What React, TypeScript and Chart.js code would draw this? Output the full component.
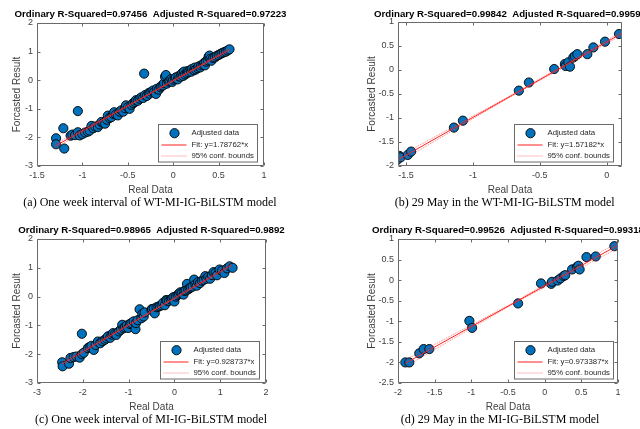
import React, { useEffect, useRef } from 'react';
import { Chart, registerables } from 'chart.js';

Chart.register(...registerables);

const SANS = '"Liberation Sans", Arial, Helvetica, sans-serif';
const SERIF = '"Liberation Serif", "Times New Roman", serif';
const AXIS_COLOR = '#6a6a6a';
const TICK_COLOR = '#404040';
const MARKER_FILL = '#0072BD';
const FIT_COLOR = '#ff2020';
const BOUND_COLOR = 'rgba(255,40,40,0.6)';

// ---------- Panel (a): one week interval, WT-MI-IG-BiLSTM ----------
const aTitle = 'Ordinary R-Squared=0.97456  Adjusted R-Squared=0.97223';
const aFitLabel = 'Fit: y=1.78762*x';
const aCaption = '(a) One week interval of WT-MI-IG-BiLSTM model';
const aXTicks = [-1.5, -1, -0.5, 0, 0.5, 1];
const aYTicks = [-3, -2, -1, 0, 1, 2];
const aRealVsForecast: number[][] = [
  [-1.29, -2.03], [-1.29, -2.24], [-1.21, -1.68], [-1.2, -2.39], [-1.05, -1.08], [-0.32, 0.23],
  [-1.13, -1.94], [-1.11, -1.9], [-1.08, -1.92], [-1.05, -1.82], [-1.03, -1.93], [-1.0, -1.88],
  [-0.97, -1.83], [-0.94, -1.8], [-0.92, -1.76], [-0.9, -1.6], [-0.88, -1.68], [-0.86, -1.62],
  [-0.83, -1.64], [-0.81, -1.55], [-0.79, -1.46], [-0.77, -1.5], [-0.75, -1.52], [-0.73, -1.38],
  [-0.72, -1.24], [-0.7, -1.32], [-0.68, -1.29], [-0.66, -1.18], [-0.65, -1.12], [-0.63, -1.2],
  [-0.61, -1.23], [-0.59, -1.1], [-0.57, -1.05], [-0.55, -1.1], [-0.53, -0.98], [-0.52, -0.88],
  [-0.5, -0.95], [-0.48, -1.0], [-0.46, -0.86], [-0.44, -0.8], [-0.42, -0.76], [-0.41, -0.7],
  [-0.39, -0.72], [-0.37, -0.65], [-0.35, -0.6], [-0.33, -0.62], [-0.31, -0.52], [-0.29, -0.55],
  [-0.27, -0.45], [-0.26, -0.47], [-0.24, -0.4], [-0.22, -0.36], [-0.21, -0.42], [-0.19, -0.48],
  [-0.18, -0.3], [-0.16, -0.33], [-0.14, -0.25], [-0.13, -0.2], [-0.11, -0.18], [-0.1, -0.1],
  [-0.09, 0.12], [-0.08, 0.18], [-0.07, -0.12], [-0.05, -0.05], [-0.04, -0.02], [-0.02, 0.04],
  [-0.01, -0.06], [0.0, 0.02], [0.02, 0.06], [0.03, 0.1], [0.05, 0.03], [0.06, 0.14],
  [0.08, 0.12], [0.09, 0.2], [0.1, 0.25], [0.11, 0.15], [0.12, 0.3], [0.13, 0.2],
  [0.15, 0.24], [0.16, 0.32], [0.17, 0.28], [0.19, 0.35], [0.2, 0.3], [0.21, 0.4],
  [0.23, 0.35], [0.24, 0.44], [0.25, 0.38], [0.27, 0.42], [0.28, 0.48], [0.3, 0.45],
  [0.31, 0.52], [0.33, 0.55], [0.34, 0.6], [0.35, 0.52], [0.36, 0.65], [0.38, 0.7],
  [0.39, 0.82], [0.4, 0.86], [0.41, 0.75], [0.42, 0.68], [0.44, 0.78], [0.46, 0.8],
  [0.48, 0.85], [0.5, 0.88], [0.52, 0.92], [0.54, 0.95], [0.56, 0.98], [0.58, 1.0],
  [0.6, 1.04], [0.62, 1.08],
];
const aFitX = [-1.3, 0.62];
const aFitY = [-2.3, 1.07];
const aBoundX = [-1.3, -0.34, 0.62];
const aUpper = [-2.23, -0.6, 1.12];
const aLower = [-2.37, -0.64, 1.02];

// ---------- Panel (b): 29 May, WT-MI-IG-BiLSTM ----------
const bTitle = 'Ordinary R-Squared=0.99842  Adjusted R-Squared=0.99595';
const bFitLabel = 'Fit: y=1.57182*x';
const bCaption = '(b) 29 May in the WT-MI-IG-BiLSTM model';
const bXTicks = [-1.5, -1, -0.5, 0];
const bYTicks = [-2, -1.5, -1, -0.5, 0, 0.5, 1];
const bRealVsForecast: number[][] = [
  [-1.567, -1.875], [-1.55, -1.79], [-1.54, -1.82], [-1.487, -1.77], [-1.462, -1.7],
  [-1.142, -1.2], [-1.075, -1.056], [-0.657, -0.43], [-0.582, -0.26], [-0.393, 0.02],
  [-0.313, 0.125], [-0.307, 0.083], [-0.287, 0.16], [-0.275, 0.07], [-0.25, 0.26],
  [-0.238, 0.29], [-0.22, 0.33], [-0.145, 0.33], [-0.1, 0.47], [-0.013, 0.59], [0.092, 0.75],
];
const bFitX = [-1.567, 0.117];
const bFitY = [-1.88, 0.77];
const bBoundX = [-1.567, -0.72, 0.117];
const bUpper = [-1.82, -0.535, 0.805];
const bLower = [-1.94, -0.56, 0.735];

// ---------- Panel (c): one week interval, MI-IG-BiLSTM ----------
const cTitle = 'Ordinary R-Squared=0.98965  Adjusted R-Squared=0.9892';
const cFitLabel = 'Fit: y=0.928737*x';
const cCaption = '(c) One week interval of MI-IG-BiLSTM model';
const cXTicks = [-3, -2, -1, 0, 1, 2];
const cYTicks = [-3, -2, -1, 0, 1, 2];
const cRealVsForecast: number[][] = [
  [-2.45, -2.28], [-2.44, -2.42], [-2.3, -2.33], [-2.27, -2.13], [-2.2, -2.1], [-2.14, -2.08],
  [-2.07, -2.12], [-2.02, -2.0], [-2.02, -1.29], [-1.98, -1.95], [-1.89, -1.79], [-1.85, -1.75],
  [-1.81, -1.71], [-1.76, -1.85], [-1.72, -1.68], [-1.67, -1.56], [-1.62, -1.62], [-1.57, -1.55],
  [-1.52, -1.5], [-1.48, -1.45], [-1.45, -1.38], [-1.4, -1.43], [-1.37, -1.32], [-1.34, -1.27],
  [-1.3, -1.3], [-1.27, -1.33], [-1.21, -1.21], [-1.17, -1.15], [-1.14, -0.98], [-1.11, -1.1],
  [-1.08, -1.06], [-1.04, -1.0], [-1.01, -1.09], [-0.97, -0.95], [-0.94, -0.92], [-0.89, -0.86],
  [-0.85, -1.13], [-0.84, -0.92], [-0.8, -0.82], [-0.76, -0.44], [-0.72, -0.75], [-0.7, -0.6],
  [-0.67, -0.69], [-0.65, -0.55], [-0.5, -0.46], [-0.49, -0.43], [-0.45, -0.42], [-0.43, -0.58],
  [-0.39, -0.37], [-0.35, -0.35], [-0.32, -0.33], [-0.28, -0.3], [-0.25, -0.22], [-0.21, -0.3],
  [-0.18, -0.12], [-0.16, -0.14], [-0.12, -0.15], [-0.08, -0.1], [-0.05, -0.06], [-0.02, -0.02],
  [0.0, -0.17], [0.03, 0.0], [0.07, 0.05], [0.1, 0.1], [0.13, 0.15], [0.16, 0.12],
  [0.2, 0.07], [0.22, 0.2], [0.25, 0.22], [0.275, 0.44], [0.3, 0.25], [0.33, 0.29],
  [0.36, 0.32], [0.4, 0.35], [0.43, 0.59], [0.46, 0.42], [0.49, 0.38], [0.52, 0.5],
  [0.56, 0.47], [0.6, 0.55], [0.64, 0.58], [0.675, 0.71], [0.7, 0.62], [0.74, 0.68],
  [0.78, 0.62], [0.82, 0.75], [0.856, 0.85], [0.9, 0.82], [0.93, 0.74], [0.987, 0.94],
  [1.04, 0.9], [1.09, 0.82], [1.15, 0.98], [1.205, 1.05], [1.27, 1.0],
];
const cFitX = [-2.45, 1.25];
const cFitY = [-2.33, 1.1];
const cBoundX = [-2.45, -0.6, 1.25];
const cUpper = [-2.26, -0.58, 1.16];
const cLower = [-2.4, -0.61, 1.04];

// ---------- Panel (d): 29 May, MI-IG-BiLSTM ----------
const dTitle = 'Ordinary R-Squared=0.99526  Adjusted R-Squared=0.99318';
const dFitLabel = 'Fit: y=0.973387*x';
const dCaption = '(d) 29 May in the MI-IG-BiLSTM model';
const dXTicks = [-2, -1.5, -1, -0.5, 0, 0.5, 1];
const dYTicks = [-2.5, -2, -1.5, -1, -0.5, 0, 0.5, 1];
const dRealVsForecast: number[][] = [
  [-1.9, -2.0], [-1.846, -2.0], [-1.71, -1.78], [-1.65, -1.675], [-1.573, -1.675],
  [-1.027, -0.99], [-0.99, -1.16], [-0.363, -0.566], [-0.05, -0.08], [0.09, -0.09],
  [0.1, -0.04], [0.177, -0.01], [0.214, 0.04], [0.26, 0.1], [0.28, 0.12], [0.374, 0.26],
  [0.44, 0.32], [0.46, 0.35], [0.477, 0.26], [0.57, 0.56], [0.696, 0.575], [0.95, 0.825],
];
const dFitX = [-1.9, 1.0];
const dFitY = [-2.02, 0.85];
const dBoundX = [-1.9, -0.45, 1.0];
const dUpper = [-1.94, -0.57, 0.92];
const dLower = [-2.1, -0.6, 0.78];

const LEGEND_MARKER = 'Adjusted data';
const LEGEND_BOUNDS = '95% conf. bounds';
const X_LABEL = 'Real Data';
const Y_LABEL = 'Forcasted Result';

type Spec = {
  box: { left: number; top: number; w: number; h: number };
  area: { l: number; r: number; t: number; b: number };
  points: number[][];
  fitX: number[]; fitY: number[];
  boundX: number[]; upper: number[]; lower: number[];
  xMin: number; xMax: number; xTicks: number[];
  yMin: number; yMax: number; yTicks: number[];
  title: string; fitLabel: string; caption: string;
  titleY: number; yTitleX: number; xTitleY: number;
  captionX: number; captionY: number;
  legendDx: number; legendDy: number;
};

const specs: Spec[] = [
  {
    box: { left: 0, top: 0, w: 320, h: 215 }, area: { l: 37, r: 264, t: 23, b: 166 },
    points: aRealVsForecast, fitX: aFitX, fitY: aFitY, boundX: aBoundX, upper: aUpper, lower: aLower,
    xMin: -1.5, xMax: 1, xTicks: aXTicks, yMin: -3, yMax: 2, yTicks: aYTicks,
    title: aTitle, fitLabel: aFitLabel, caption: aCaption,
    titleY: 14, yTitleX: 17.3, xTitleY: 190.7, captionX: 150, captionY: 202, legendDx: 7, legendDy: 5,
  },
  {
    box: { left: 320, top: 0, w: 320, h: 215 }, area: { l: 78, r: 302, t: 22, b: 166 },
    points: bRealVsForecast, fitX: bFitX, fitY: bFitY, boundX: bBoundX, upper: bUpper, lower: bLower,
    xMin: -1.56, xMax: 0.114, xTicks: bXTicks, yMin: -2, yMax: 1, yTicks: bYTicks,
    title: bTitle, fitLabel: bFitLabel, caption: bCaption,
    titleY: 14, yTitleX: 52.7, xTitleY: 190.7, captionX: 184.7, captionY: 202, legendDx: 9, legendDy: 4.5,
  },
  {
    box: { left: 0, top: 215, w: 320, h: 214 }, area: { l: 37, r: 266, t: 24, b: 168 },
    points: cRealVsForecast, fitX: cFitX, fitY: cFitY, boundX: cBoundX, upper: cUpper, lower: cLower,
    xMin: -3, xMax: 2, xTicks: cXTicks, yMin: -3, yMax: 2, yTicks: cYTicks,
    title: cTitle, fitLabel: cFitLabel, caption: cCaption,
    titleY: 15.5, yTitleX: 17.3, xTitleY: 192.7, captionX: 151, captionY: 204, legendDx: 7, legendDy: 4.5,
  },
  {
    box: { left: 320, top: 215, w: 320, h: 214 }, area: { l: 78, r: 298, t: 24, b: 168 },
    points: dRealVsForecast, fitX: dFitX, fitY: dFitY, boundX: dBoundX, upper: dUpper, lower: dLower,
    xMin: -2, xMax: 1, xTicks: dXTicks, yMin: -2.5, yMax: 1, yTicks: dYTicks,
    title: dTitle, fitLabel: dFitLabel, caption: dCaption,
    titleY: 15.5, yTitleX: 52.7, xTitleY: 192.7, captionX: 180, captionY: 204, legendDx: 5, legendDy: 5,
  },
];

const decorPlugin = {
  id: 'decor',
  afterDatasetsDraw(chart: any, _args: any, opts: any) {
    const { ctx, chartArea: a } = chart;
    const xs = chart.scales.x;
    const ys = chart.scales.y;
    ctx.save();
    // axes box with inward ticks
    const L = Math.round(a.left) + 0.5;
    const R = Math.round(a.right) - 0.5;
    const T = Math.round(a.top) + 0.5;
    const B = Math.round(a.bottom) - 0.5;
    ctx.strokeStyle = AXIS_COLOR;
    ctx.lineWidth = 1;
    ctx.setLineDash([]);
    ctx.beginPath();
    ctx.rect(L, T, R - L, B - T);
    xs.ticks.forEach((t: any) => {
      const p = Math.round(xs.getPixelForValue(t.value)) + 0.5;
      ctx.moveTo(p, B); ctx.lineTo(p, B - 3);
      ctx.moveTo(p, T); ctx.lineTo(p, T + 3);
    });
    ys.ticks.forEach((t: any) => {
      const p = Math.round(ys.getPixelForValue(t.value)) + 0.5;
      ctx.moveTo(L, p); ctx.lineTo(L + 3, p);
      ctx.moveTo(R, p); ctx.lineTo(R - 3, p);
    });
    ctx.stroke();

    // title
    ctx.fillStyle = '#000';
    ctx.font = `bold 9.7px ${SANS}`;
    ctx.textAlign = 'center';
    ctx.textBaseline = 'middle';
    ctx.fillText(opts.title, (a.left + a.right) / 2, opts.titleY);

    // legend
    const lw = 99;
    const lh = 37.5;
    const lx = Math.round(a.right - opts.legendDx - lw) + 0.5;
    const ly = Math.round(a.bottom - opts.legendDy - lh) + 0.5;
    ctx.fillStyle = '#fff';
    ctx.fillRect(lx, ly, lw, lh);
    ctx.strokeStyle = AXIS_COLOR;
    ctx.lineWidth = 1;
    ctx.strokeRect(lx, ly, lw, lh);

    const r1 = ly + 8.7;
    const r2 = ly + 20.5;
    const r3 = ly + 31.3;
    ctx.beginPath();
    ctx.arc(lx + 16, r1, 4.6, 0, Math.PI * 2);
    ctx.fillStyle = MARKER_FILL;
    ctx.fill();
    ctx.strokeStyle = '#000';
    ctx.lineWidth = 0.9;
    ctx.stroke();

    ctx.beginPath();
    ctx.strokeStyle = FIT_COLOR;
    ctx.lineWidth = 1;
    ctx.moveTo(lx + 3, Math.round(r2));
    ctx.lineTo(lx + 28, Math.round(r2));
    ctx.stroke();

    ctx.beginPath();
    ctx.strokeStyle = BOUND_COLOR;
    ctx.setLineDash([1, 1]);
    ctx.moveTo(lx + 3, Math.round(r3));
    ctx.lineTo(lx + 28, Math.round(r3));
    ctx.stroke();
    ctx.setLineDash([]);

    ctx.fillStyle = '#262626';
    ctx.font = `7.8px ${SANS}`;
    ctx.textAlign = 'left';
    ctx.textBaseline = 'middle';
    ctx.fillText(LEGEND_MARKER, lx + 33, r1);
    ctx.fillText(opts.fitLabel, lx + 33, r2);
    ctx.fillText(LEGEND_BOUNDS, lx + 33, r3);
    ctx.restore();
  },
};

function toXY(xs: number[], ys: number[]) {
  return xs.map((x, i) => ({ x, y: ys[i] }));
}

const TICK_SIZE = 9;
const LABEL_SIZE = 10;

function Panel({ s }: { s: Spec }) {
  const ref = useRef<HTMLCanvasElement | null>(null);
  useEffect(() => {
    if (!ref.current) return;
    const lineH = LABEL_SIZE * 1.2;
    const chart = new Chart(ref.current, {
      type: 'scatter',
      data: {
        datasets: [
          {
            label: 'Fit', data: toXY(s.fitX, s.fitY), showLine: true, pointRadius: 0,
            borderColor: FIT_COLOR, borderWidth: 1, order: 0,
          },
          {
            label: 'Upper bound', data: toXY(s.boundX, s.upper), showLine: true, pointRadius: 0,
            borderColor: BOUND_COLOR, borderWidth: 1, borderDash: [1, 1], order: 1,
          },
          {
            label: 'Lower bound', data: toXY(s.boundX, s.lower), showLine: true, pointRadius: 0,
            borderColor: BOUND_COLOR, borderWidth: 1, borderDash: [1, 1], order: 2,
          },
          {
            label: LEGEND_MARKER, data: s.points.map(([x, y]) => ({ x, y })), showLine: false,
            pointRadius: 4.6, pointBackgroundColor: MARKER_FILL, pointBorderColor: '#000',
            pointBorderWidth: 0.9, order: 3,
          },
        ],
      } as any,
      options: {
        animation: false,
        responsive: false,
        events: [],
        layout: { padding: { left: 0, top: s.area.t, right: s.box.w - s.area.r, bottom: 0 } },
        plugins: {
          legend: { display: false },
          tooltip: { enabled: false },
          decor: {
            title: s.title, titleY: s.titleY, fitLabel: s.fitLabel,
            legendDx: s.legendDx, legendDy: s.legendDy,
          },
        } as any,
        scales: {
          x: {
            type: 'linear', min: s.xMin, max: s.xMax, bounds: 'data',
            afterFit: (sc: any) => { sc.height = s.box.h - s.area.b; },
            afterBuildTicks: (sc: any) => { sc.ticks = s.xTicks.map((v) => ({ value: v })); },
            ticks: {
              callback: (v: any) => String(v), color: TICK_COLOR, padding: 4,
              font: { family: SANS, size: TICK_SIZE }, maxRotation: 0, autoSkip: false,
            },
            grid: { display: false, drawTicks: false },
            border: { display: false },
            title: {
              display: true, text: X_LABEL, color: TICK_COLOR,
              font: { family: SANS, size: LABEL_SIZE },
              padding: { top: 0, bottom: s.box.h - s.xTitleY - lineH / 2 },
            },
          },
          y: {
            type: 'linear', min: s.yMin, max: s.yMax, bounds: 'data',
            afterFit: (sc: any) => { sc.width = s.area.l; },
            afterBuildTicks: (sc: any) => { sc.ticks = s.yTicks.map((v) => ({ value: v })); },
            ticks: {
              callback: (v: any) => String(v), color: TICK_COLOR, padding: 4,
              font: { family: SANS, size: TICK_SIZE }, autoSkip: false,
            },
            grid: { display: false, drawTicks: false },
            border: { display: false },
            title: {
              display: true, text: Y_LABEL, color: TICK_COLOR,
              font: { family: SANS, size: LABEL_SIZE },
              padding: { top: s.yTitleX - lineH / 2, bottom: 0 },
            },
          },
        },
      } as any,
      plugins: [decorPlugin as any],
    });
    return () => chart.destroy();
  }, [s]);

  return (
    <div style={{ position: 'absolute', left: s.box.left, top: s.box.top, width: s.box.w, height: s.box.h }}>
      <canvas ref={ref} width={s.box.w} height={s.box.h} style={{ display: 'block', width: s.box.w, height: s.box.h }} />
      <div
        style={{
          position: 'absolute', left: s.captionX, top: s.captionY - 7.5, transform: 'translateX(-50%)',
          whiteSpace: 'nowrap', fontFamily: SERIF, fontSize: 12, lineHeight: '15px', color: '#000',
        }}
      >
        {s.caption}
      </div>
    </div>
  );
}

export default function App() {
  return (
    <div
      style={{
        position: 'fixed', left: 0, top: 0, width: 640, height: 429,
        background: '#fff', overflow: 'hidden',
      }}
    >
      {specs.map((s, i) => <Panel key={i} s={s} />)}
    </div>
  );
}
